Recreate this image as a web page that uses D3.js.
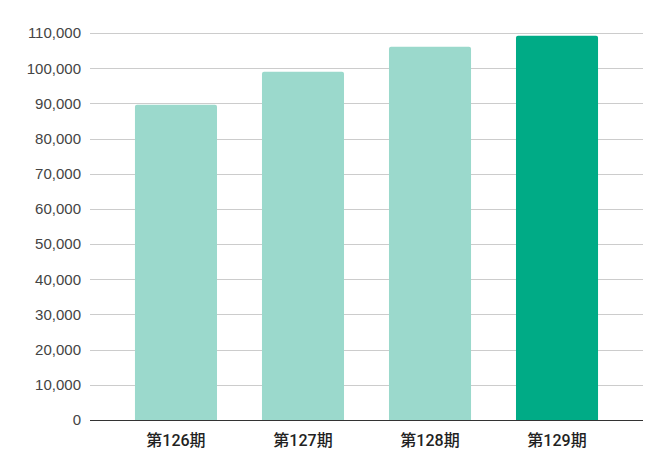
<!DOCTYPE html>
<html>
<head>
<meta charset="utf-8">
<script src="https://cdn.jsdelivr.net/npm/d3@7"></script>
<style>
  body { margin: 0; background: #fff; }
  svg { display: block; }
</style>
</head>
<body>
<div id="chart"></div>
<script>
// データ
var categories = ["第126期", "第127期", "第128期", "第129期"];
var values = [89600, 99000, 106100, 109200];
var yTicks = [0, 10000, 20000, 30000, 40000, 50000, 60000, 70000, 80000, 90000, 100000, 110000];
var highlight = "第129期";

var width = 667, height = 474;
var margin = { top: 33, right: 24, bottom: 54, left: 90 };

var svg = d3.select("#chart").append("svg")
    .attr("width", width)
    .attr("height", height);

var x = d3.scaleBand()
    .domain(categories)
    .range([margin.left, width - margin.right])
    .padding(0.354);

var y = d3.scaleLinear()
    .domain([0, 110000])
    .range([height - margin.bottom, margin.top]);

// グリッド線
svg.append("g")
    .selectAll("line")
    .data(yTicks.slice(1))
    .enter()
    .append("line")
    .attr("x1", margin.left)
    .attr("x2", width - margin.right)
    .attr("y1", function(d) { return Math.round(y(d)) + 0.5; })
    .attr("y2", function(d) { return Math.round(y(d)) + 0.5; })
    .attr("stroke", "#cccccc")
    .attr("stroke-width", 1);

// y軸ラベル
var fmt = d3.format(",");
svg.append("g")
    .selectAll("text")
    .data(yTicks)
    .enter()
    .append("text")
    .attr("x", margin.left - 9)
    .attr("y", function(d) { return y(d); })
    .attr("dy", "0.36em")
    .attr("text-anchor", "end")
    .attr("font-family", "'Liberation Sans', Arial, sans-serif")
    .attr("font-size", "15px")
    .attr("fill", "#444")
    .text(function(d) { return fmt(d); });

// 棒（上の角だけ少し丸める）
var r = 2;
svg.append("g")
    .selectAll("path")
    .data(values)
    .enter()
    .append("path")
    .attr("fill", function(d, i) { return categories[i] === highlight ? "#00ab86" : "#9bd9cc"; })
    .attr("d", function(d, i) {
        var x0 = x(categories[i]), x1 = x0 + x.bandwidth();
        var y0 = y(0), y1 = y(d);
        return "M" + x0 + "," + y0 +
            "V" + (y1 + r) +
            "Q" + x0 + "," + y1 + " " + (x0 + r) + "," + y1 +
            "H" + (x1 - r) +
            "Q" + x1 + "," + y1 + " " + x1 + "," + (y1 + r) +
            "V" + y0 + "Z";
    });

// x軸
svg.append("line")
    .attr("x1", margin.left)
    .attr("x2", width - margin.right)
    .attr("y1", Math.round(y(0)) + 0.5)
    .attr("y2", Math.round(y(0)) + 0.5)
    .attr("stroke", "#333")
    .attr("stroke-width", 1);

svg.append("g")
    .selectAll("text")
    .data(categories)
    .enter()
    .append("text")
    .attr("x", function(d) { return x(d) + x.bandwidth() / 2; })
    .attr("y", y(0) + 26)
    .attr("text-anchor", "middle")
    .attr("font-family", "Roboto, 'Noto Sans CJK JP', sans-serif")
    .attr("font-weight", "500")
    .attr("font-size", "16px")
    .attr("fill", "#222")
    .text(function(d) { return d; });
</script>
</body>
</html>
